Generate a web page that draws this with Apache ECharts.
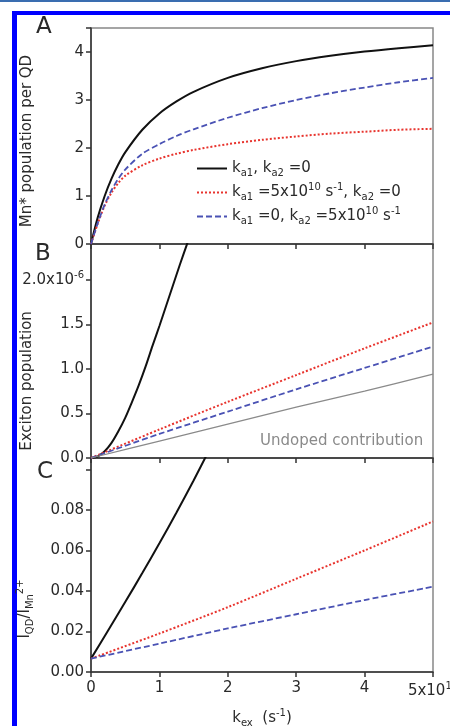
<!DOCTYPE html>
<html>
<head>
<meta charset="utf-8">
<script src="https://cdn.jsdelivr.net/npm/echarts@6/dist/echarts.min.js"></script>
<style>
html,body{margin:0;padding:0;background:#fff;}
#chart{width:450px;height:726px;}
</style>
</head>
<body>
<div id="chart"></div>
<script>
// k_ex in units of 1e10 s^-1
var xA = [0, 0.1, 0.2, 0.3, 0.4, 0.5, 0.75, 1, 1.25, 1.5, 2, 2.5, 3, 3.5, 4, 4.5, 5];
var blackA = [0, 0.56, 1.0, 1.36, 1.66, 1.91, 2.38, 2.72, 2.97, 3.17, 3.46, 3.66, 3.81, 3.92, 4.01, 4.08, 4.14];
var redA = [0, 0.43, 0.80, 1.07, 1.27, 1.42, 1.64, 1.78, 1.88, 1.96, 2.08, 2.17, 2.24, 2.30, 2.34, 2.38, 2.40];
var blueA = [0, 0.44, 0.82, 1.12, 1.36, 1.55, 1.88, 2.08, 2.25, 2.39, 2.63, 2.83, 3.00, 3.14, 3.26, 3.37, 3.46];

// exciton population (x1e-6)
var xB = [0, 0.1, 0.2, 0.3, 0.4, 0.5, 0.6, 0.7, 0.8, 0.9, 1.0, 1.1, 1.2, 1.3, 1.4, 1.5];
var blackB = [0, 0.018, 0.076, 0.17, 0.30, 0.45, 0.63, 0.82, 1.03, 1.26, 1.48, 1.71, 1.94, 2.17, 2.39, 2.62];
var xL = [0, 1, 2, 3, 4, 5];
var redB = [0, 0.32, 0.63, 0.93, 1.23, 1.52];
var blueB = [0, 0.27, 0.52, 0.77, 1.01, 1.25];
var grayB = [0, 0.19, 0.38, 0.57, 0.75, 0.94];

// I_QD / I_Mn ratio
var xC = [0, 0.25, 0.5, 0.75, 1.0, 1.25, 1.5, 1.75];
var blackC = [0.0066, 0.0205, 0.0345, 0.0488, 0.0635, 0.0787, 0.0945, 0.111];
var redC = [0.0066, 0.019, 0.032, 0.046, 0.060, 0.0743];
var blueC = [0.0066, 0.014, 0.0215, 0.0285, 0.0355, 0.0421];

var legendNames = ['ka1, ka2 =0', 'ka1 =5x10^10 s^-1, ka2 =0', 'ka1 =0, ka2 =5x10^10 s^-1'];
var legendRich = [
    '{m|k}{s|a1}{m|, k}{s|a2}{m| =0}',
    '{m|k}{s|a1}{m| =5x10}{p|10}{m| s}{p|-1}{m|, k}{s|a2}{m| =0}',
    '{m|k}{s|a1}{m| =0, k}{s|a2}{m| =5x10}{p|10}{m| s}{p|-1}'
];

var FONT = 'DejaVu Sans';
var TXT = '#2a2a2a';
var BLACK = '#111111', RED = '#e8342e', BLUE = '#4a52b4', GRAY = '#8a8a8a';

function pairs(xs, ys) {
    return xs.map(function (x, i) { return [x, ys[i]]; });
}

var richSmall = {
    m: {fontSize: 15, lineHeight: 20, fontFamily: FONT, color: TXT},
    s: {fontSize: 10, lineHeight: 10, verticalAlign: 'bottom', fontFamily: FONT, color: TXT},
    p: {fontSize: 10, lineHeight: 10, verticalAlign: 'top', fontFamily: FONT, color: TXT}
};

var axisLine = {lineStyle: {color: '#333', width: 1.5}};
var axisTick = {inside: false, length: 5, lineStyle: {color: '#333', width: 1.5}};

function xAxisFor(idx, withLabels) {
    return {
        type: 'value', gridIndex: idx, min: 0, max: 5, interval: 1,
        axisLine: axisLine, axisTick: axisTick, splitLine: {show: false},
        axisLabel: withLabels ? {
            show: true, margin: 9, fontSize: 15, fontFamily: FONT, color: TXT,
            showMaxLabel: true, showMinLabel: true,
            formatter: function (v) { return v === 5 ? '{m|5x10}{p|10}' : String(v); },
            rich: richSmall
        } : {show: false},
        name: withLabels ? '{m|k}{s|ex}{m|  (s}{p|-1}{m|)}' : '',
        nameLocation: 'middle', nameGap: 36,
        nameTextStyle: {rich: richSmall}
    };
}

function yAxisFor(idx, max, interval, fmt, name, namePad) {
    return {
        type: 'value', gridIndex: idx, min: 0, max: max, interval: interval,
        axisLine: axisLine, axisTick: axisTick, splitLine: {show: false},
        axisLabel: {
            margin: 7, fontSize: 15, fontFamily: FONT, color: TXT, formatter: fmt,
            showMaxLabel: true,
            rich: {
                b: {fontSize: 15, lineHeight: 18, fontFamily: FONT, color: TXT},
                s: {fontSize: 10, lineHeight: 10, verticalAlign: 'top', fontFamily: FONT, color: TXT}
            }
        },
        name: name, nameLocation: 'middle', nameGap: 56, nameRotate: 90,
        nameMoveOverlap: false,
        nameTextStyle: {fontSize: 15, fontFamily: FONT, color: TXT, padding: [0, namePad, 0, 0], rich: richSmall}
    };
}

function line(name, xi, data, color, type, width) {
    return {
        name: name, type: 'line', xAxisIndex: xi, yAxisIndex: xi,
        data: data, symbol: 'none', smooth: 0.3, clip: true,
        lineStyle: {color: color, type: type, width: width},
        itemStyle: {color: color}
    };
}

var grids = [
    {left: 91, right: 17, top: 28, height: 216},
    {left: 91, right: 17, top: 244, height: 214},
    {left: 91, right: 17, top: 458, height: 214}
].map(function (g) {
    g.show = true; g.borderColor = '#888'; g.borderWidth = 1.5;
    g.outerBoundsMode = 'none';
    return g;
});

var option = {
    animation: false,
    backgroundColor: '#fff',
    textStyle: {fontFamily: FONT},
    grid: grids,
    xAxis: [xAxisFor(0, false), xAxisFor(1, false), xAxisFor(2, true)],
    yAxis: [
        yAxisFor(0, 4.5, 1, function (v) { return v % 1 === 0 ? String(v) : ''; },
            'Mn* population per QD', 10),
        yAxisFor(1, 2.4, 0.5, function (v) {
            if (v === 2) return '{b|2.0x10}{s|-6}';
            return Math.abs(v * 2 - Math.round(v * 2)) < 1e-9 ? v.toFixed(1) : '';
        }, 'Exciton population', 60),
        yAxisFor(2, 0.1056, 0.02, function (v) {
            var k = v / 0.02;
            return (Math.abs(k - Math.round(k)) < 1e-6 && v < 0.09) ? v.toFixed(2) : '';
        }, '{m|I}{s|QD}{m|/I}{s|Mn}{p|2+}', 88)
    ],
    legend: {
        data: legendNames, orient: 'vertical', left: 196, top: 161, padding: 0,
        itemWidth: 30, itemHeight: 14, itemGap: 4,
        itemStyle: {opacity: 0},
        formatter: function (n) { return legendRich[legendNames.indexOf(n)]; },
        textStyle: {fontSize: 15, fontFamily: FONT, color: TXT, rich: richSmall}
    },
    series: [
        line(legendNames[0], 0, pairs(xA, blackA), BLACK, 'solid', 2),
        line(legendNames[1], 0, pairs(xA, redA), RED, [2, 2], 2),
        line(legendNames[2], 0, pairs(xA, blueA), BLUE, [6, 3], 1.8),
        line(legendNames[0], 1, pairs(xB, blackB), BLACK, 'solid', 2),
        line(legendNames[1], 1, pairs(xL, redB), RED, [2, 2], 2),
        line(legendNames[2], 1, pairs(xL, blueB), BLUE, [6, 3], 1.8),
        line('Undoped contribution', 1, pairs(xL, grayB), GRAY, 'solid', 1.2),
        line(legendNames[0], 2, pairs(xC, blackC), BLACK, 'solid', 2),
        line(legendNames[1], 2, pairs(xL, redC), RED, [2, 2], 2),
        line(legendNames[2], 2, pairs(xL, blueC), BLUE, [6, 3], 1.8)
    ],
    graphic: [
        {type: 'rect', shape: {x: 0, y: 0, width: 450, height: 2}, style: {fill: '#3a6db0'}},
        {type: 'rect', shape: {x: 12, y: 11, width: 438, height: 4}, style: {fill: '#0000ff'}},
        {type: 'rect', shape: {x: 12, y: 11, width: 5, height: 715}, style: {fill: '#0000ff'}},
        {type: 'text', style: {x: 36, y: 16, text: 'A', fontSize: 23, fontFamily: FONT, fill: TXT, verticalAlign: 'top'}},
        {type: 'text', style: {x: 35, y: 243, text: 'B', fontSize: 23, fontFamily: FONT, fill: TXT, verticalAlign: 'top'}},
        {type: 'text', style: {x: 37, y: 461, text: 'C', fontSize: 23, fontFamily: FONT, fill: TXT, verticalAlign: 'top'}},
        {type: 'text', style: {x: 260, y: 441, text: 'Undoped contribution', fontSize: 15, fontFamily: FONT, fill: GRAY, verticalAlign: 'middle'}}
    ]
};

var chart = echarts.init(document.getElementById('chart'));
chart.setOption(option);
</script>
</body>
</html>
